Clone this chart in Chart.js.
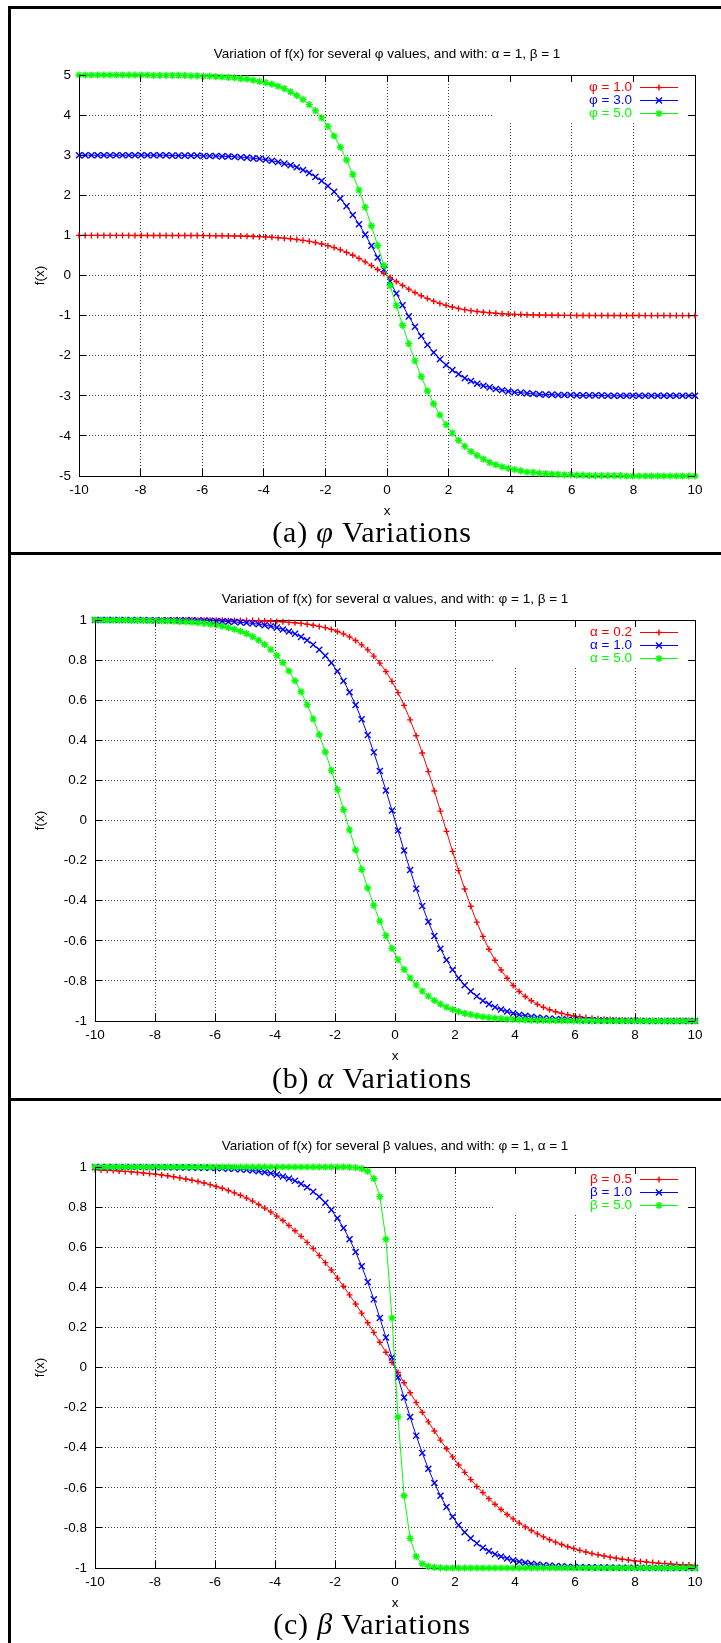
<!DOCTYPE html>
<html>
<head>
<meta charset="utf-8">
<title>Variations of f(x)</title>
<script src="https://cdn.jsdelivr.net/npm/chart.js@4.4.1/dist/chart.umd.min.js"></script>
<style>
  html, body { margin: 0; padding: 0; background: #fff; }
  #page { position: relative; width: 721px; height: 1643px; overflow: hidden; background: #fff; }
  canvas { position: absolute; left: 0; }
  .rule { position: absolute; background: #000; }
  .caption {
    position: absolute; left: 0; width: 744px; text-align: center;
    font-family: "Liberation Serif", "DejaVu Serif", serif;
    font-size: 30px; line-height: 30px; letter-spacing: 0.8px; color: #000;
  }
</style>
</head>
<body>
<div id="page">
  <canvas id="chartA" width="721" height="546" style="top:7px"></canvas>
  <canvas id="chartB" width="721" height="546" style="top:552px"></canvas>
  <canvas id="chartC" width="721" height="546" style="top:1099px"></canvas>

  <div class="rule" style="left:8px; top:6px; width:713px; height:3px"></div>
  <div class="rule" style="left:8px; top:6px; width:3px; height:1637px"></div>
  <div class="rule" style="left:8px; top:552px; width:713px; height:3px"></div>
  <div class="rule" style="left:8px; top:1098px; width:713px; height:3px"></div>

  <div class="caption" style="top:517px">(a) <i>φ</i> Variations</div>
  <div class="caption" style="top:1063px">(b) <i>α</i> Variations</div>
  <div class="caption" style="top:1609px">(c) <i>β</i> Variations</div>
</div>

<script>
// x samples (100 points between -10 and 10, like gnuplot)
const xs = [
  -10, -9.798, -9.596, -9.394, -9.192, -8.990, -8.788, -8.586, -8.384, -8.182,
  -7.980, -7.778, -7.576, -7.374, -7.172, -6.970, -6.768, -6.566, -6.364, -6.162,
  -5.960, -5.758, -5.556, -5.354, -5.152, -4.949, -4.747, -4.545, -4.343, -4.141,
  -3.939, -3.737, -3.535, -3.333, -3.131, -2.929, -2.727, -2.525, -2.323, -2.121,
  -1.919, -1.717, -1.515, -1.313, -1.111, -0.909, -0.707, -0.505, -0.303, -0.101,
  0.101, 0.303, 0.505, 0.707, 0.909, 1.111, 1.313, 1.515, 1.717, 1.919,
  2.121, 2.323, 2.525, 2.727, 2.929, 3.131, 3.333, 3.535, 3.737, 3.939,
  4.141, 4.343, 4.545, 4.747, 4.949, 5.152, 5.354, 5.556, 5.758, 5.960,
  6.162, 6.364, 6.566, 6.768, 6.970, 7.172, 7.374, 7.576, 7.778, 7.980,
  8.182, 8.384, 8.586, 8.788, 8.990, 9.192, 9.394, 9.596, 9.798, 10
];

const xTicks = [-10, -8, -6, -4, -2, 0, 2, 4, 6, 8, 10];
const phiTicks = [-5, -4, -3, -2, -1, 0, 1, 2, 3, 4, 5];
const unitTicks = [-1, -0.8, -0.6, -0.4, -0.2, 0, 0.2, 0.4, 0.6, 0.8, 1];

// phi = 1, alpha = 1, beta = 1 (same curve in the three panels)
const unitCurve = [
  1, 1, 1, 1, 1, 1, 1, 1, 1, 0.999,
  0.999, 0.999, 0.999, 0.999, 0.998, 0.998, 0.998, 0.997, 0.997, 0.996,
  0.995, 0.994, 0.992, 0.991, 0.988, 0.986, 0.983, 0.979, 0.974, 0.969,
  0.962, 0.953, 0.943, 0.931, 0.916, 0.899, 0.877, 0.852, 0.822, 0.786,
  0.744, 0.696, 0.640, 0.576, 0.505, 0.426, 0.340, 0.247, 0.150, 0.050,
  -0.050, -0.150, -0.247, -0.340, -0.426, -0.505, -0.576, -0.640, -0.696, -0.744,
  -0.786, -0.822, -0.852, -0.877, -0.899, -0.916, -0.931, -0.943, -0.953, -0.962,
  -0.969, -0.974, -0.979, -0.983, -0.986, -0.988, -0.991, -0.992, -0.994, -0.995,
  -0.996, -0.997, -0.997, -0.998, -0.998, -0.998, -0.999, -0.999, -0.999, -0.999,
  -0.999, -1, -1, -1, -1, -1, -1, -1, -1, -1
];

// panel (a)
const phi3 = [
  3, 3, 3, 3, 3, 3, 3, 3, 3, 3,
  3, 3, 3, 3, 3, 2.99, 2.99, 2.99, 2.99, 2.99,
  2.98, 2.98, 2.98, 2.97, 2.97, 2.96, 2.95, 2.94, 2.92, 2.91,
  2.89, 2.86, 2.83, 2.79, 2.75, 2.70, 2.63, 2.56, 2.46, 2.36,
  2.23, 2.09, 1.92, 1.73, 1.51, 1.28, 1.02, 0.74, 0.45, 0.15,
  -0.15, -0.45, -0.74, -1.02, -1.28, -1.51, -1.73, -1.92, -2.09, -2.23,
  -2.36, -2.46, -2.56, -2.63, -2.70, -2.75, -2.79, -2.83, -2.86, -2.89,
  -2.91, -2.92, -2.94, -2.95, -2.96, -2.97, -2.97, -2.98, -2.98, -2.98,
  -2.99, -2.99, -2.99, -2.99, -2.99, -3, -3, -3, -3, -3,
  -3, -3, -3, -3, -3, -3, -3, -3, -3, -3
];
const phi5 = [
  5, 5, 5, 5, 5, 5, 5, 5, 5, 5,
  5, 5, 4.99, 4.99, 4.99, 4.99, 4.99, 4.99, 4.98, 4.98,
  4.97, 4.97, 4.96, 4.95, 4.94, 4.93, 4.91, 4.90, 4.87, 4.84,
  4.81, 4.77, 4.72, 4.66, 4.58, 4.49, 4.39, 4.26, 4.11, 3.93,
  3.72, 3.48, 3.20, 2.88, 2.52, 2.13, 1.70, 1.24, 0.75, 0.25,
  -0.25, -0.75, -1.24, -1.70, -2.13, -2.52, -2.88, -3.20, -3.48, -3.72,
  -3.93, -4.11, -4.26, -4.39, -4.49, -4.58, -4.66, -4.72, -4.77, -4.81,
  -4.84, -4.87, -4.90, -4.91, -4.93, -4.94, -4.95, -4.96, -4.97, -4.97,
  -4.98, -4.98, -4.99, -4.99, -4.99, -4.99, -4.99, -4.99, -5, -5,
  -5, -5, -5, -5, -5, -5, -5, -5, -5, -5
];

// panel (b)
const alpha02 = [
  1, 1, 1, 1, 1, 1, 1, 1, 1, 1,
  1, 1, 1, 1, 1, 1, 1, 0.999, 0.999, 0.999,
  0.999, 0.999, 0.998, 0.998, 0.998, 0.997, 0.997, 0.996, 0.995, 0.994,
  0.992, 0.991, 0.988, 0.986, 0.983, 0.979, 0.974, 0.968, 0.962, 0.953,
  0.943, 0.931, 0.916, 0.898, 0.876, 0.851, 0.820, 0.785, 0.743, 0.694,
  0.638, 0.574, 0.502, 0.423, 0.337, 0.244, 0.147, 0.047, -0.054, -0.154,
  -0.250, -0.342, -0.428, -0.507, -0.578, -0.642, -0.697, -0.746, -0.787, -0.823,
  -0.853, -0.878, -0.899, -0.917, -0.932, -0.944, -0.954, -0.962, -0.969, -0.975,
  -0.979, -0.983, -0.986, -0.989, -0.991, -0.992, -0.994, -0.995, -0.996, -0.997,
  -0.997, -0.998, -0.998, -0.998, -0.999, -0.999, -0.999, -0.999, -0.999, -1
];
const alpha5 = [
  1, 0.999, 0.999, 0.999, 0.999, 0.999, 0.998, 0.998, 0.998, 0.997,
  0.997, 0.996, 0.995, 0.994, 0.992, 0.991, 0.989, 0.986, 0.983, 0.979,
  0.975, 0.969, 0.962, 0.954, 0.944, 0.932, 0.917, 0.899, 0.878, 0.853,
  0.823, 0.787, 0.746, 0.697, 0.642, 0.578, 0.507, 0.428, 0.342, 0.250,
  0.154, 0.054, -0.047, -0.147, -0.244, -0.337, -0.423, -0.502, -0.574, -0.638,
  -0.694, -0.743, -0.785, -0.820, -0.851, -0.876, -0.898, -0.916, -0.931, -0.943,
  -0.953, -0.962, -0.968, -0.974, -0.979, -0.983, -0.986, -0.988, -0.991, -0.992,
  -0.994, -0.995, -0.996, -0.997, -0.997, -0.998, -0.998, -0.998, -0.999, -0.999,
  -0.999, -0.999, -0.999, -1, -1, -1, -1, -1, -1, -1,
  -1, -1, -1, -1, -1, -1, -1, -1, -1, -1
];

// panel (c)
const beta05 = [
  0.987, 0.985, 0.984, 0.982, 0.980, 0.978, 0.976, 0.973, 0.970, 0.967,
  0.964, 0.960, 0.956, 0.951, 0.946, 0.940, 0.934, 0.928, 0.920, 0.912,
  0.903, 0.894, 0.883, 0.871, 0.859, 0.845, 0.830, 0.813, 0.795, 0.776,
  0.755, 0.733, 0.708, 0.682, 0.654, 0.624, 0.593, 0.559, 0.523, 0.486,
  0.446, 0.405, 0.362, 0.317, 0.271, 0.223, 0.175, 0.126, 0.076, 0.025,
  -0.025, -0.076, -0.126, -0.175, -0.223, -0.271, -0.317, -0.362, -0.405, -0.446,
  -0.486, -0.523, -0.559, -0.593, -0.624, -0.654, -0.682, -0.708, -0.733, -0.755,
  -0.776, -0.795, -0.813, -0.830, -0.845, -0.859, -0.871, -0.883, -0.894, -0.903,
  -0.912, -0.920, -0.928, -0.934, -0.940, -0.946, -0.951, -0.956, -0.960, -0.964,
  -0.967, -0.970, -0.973, -0.976, -0.978, -0.980, -0.982, -0.984, -0.985, -0.987
];
const beta5 = [
  1, 1, 1, 1, 1, 1, 1, 1, 1, 1,
  1, 1, 1, 1, 1, 1, 1, 1, 1, 1,
  1, 1, 1, 1, 1, 1, 1, 1, 1, 1,
  1, 1, 1, 1, 1, 1, 1, 1, 1, 1,
  1, 1, 0.999, 0.997, 0.992, 0.979, 0.943, 0.852, 0.640, 0.247,
  -0.247, -0.640, -0.852, -0.943, -0.979, -0.992, -0.997, -0.999, -1, -1,
  -1, -1, -1, -1, -1, -1, -1, -1, -1, -1,
  -1, -1, -1, -1, -1, -1, -1, -1, -1, -1,
  -1, -1, -1, -1, -1, -1, -1, -1, -1, -1,
  -1, -1, -1, -1, -1, -1, -1, -1, -1, -1
];

const phiLabels = ['φ = 1.0', 'φ = 3.0', 'φ = 5.0'];
const alphaLabels = ['α = 0.2', 'α = 1.0', 'α = 5.0'];
const betaLabels = ['β = 0.5', 'β = 1.0', 'β = 5.0'];

// gnuplot look
const colors = ['#ff0000', '#0000ff', '#00ff00'];
const marks = ['cross', 'crossRot', 'star'];
const markSize = [3, 4.3, 3.6];
const FONT = { family: '"Liberation Sans", Arial, sans-serif', size: 13.5 };
const KEY_W = 202, KEY_H = 45;

function alignPx(p) {
  return Math.round(p - 0.5) + 0.5;
}

function drawMark(ctx, style, x, y, r) {
  ctx.beginPath();
  if (style === 'cross' || style === 'star') {
    ctx.moveTo(x - r, y); ctx.lineTo(x + r, y);
    ctx.moveTo(x, y - r); ctx.lineTo(x, y + r);
  }
  if (style === 'crossRot' || style === 'star') {
    const d = r * Math.SQRT1_2;
    ctx.moveTo(x - d, y - d); ctx.lineTo(x + d, y + d);
    ctx.moveTo(x - d, y + d); ctx.lineTo(x + d, y - d);
  }
  ctx.stroke();
}

// inward ticks, blank key box and key (text on the left, sample on the right)
const gnuplotFrame = {
  id: 'gnuplotFrame',
  beforeDatasetsDraw(chart) {
    const { ctx, chartArea: a } = chart;
    ctx.save();
    ctx.fillStyle = '#fff';
    ctx.fillRect(a.right - KEY_W, a.top + 1, KEY_W, KEY_H);
    ctx.restore();
  },
  afterDatasetsDraw(chart) {
    const { ctx, chartArea: a, scales } = chart;
    ctx.save();
    ctx.strokeStyle = '#000';
    ctx.lineWidth = 1;
    ctx.beginPath();
    scales.x.ticks.forEach(t => {
      const px = alignPx(scales.x.getPixelForValue(t.value));
      ctx.moveTo(px, a.top); ctx.lineTo(px, a.top + 7);
      ctx.moveTo(px, a.bottom); ctx.lineTo(px, a.bottom - 7);
    });
    scales.y.ticks.forEach(t => {
      const py = alignPx(scales.y.getPixelForValue(t.value));
      ctx.moveTo(a.left, py); ctx.lineTo(a.left + 7, py);
      ctx.moveTo(a.right, py); ctx.lineTo(a.right - 7, py);
    });
    ctx.stroke();

    ctx.font = FONT.size + 'px ' + FONT.family;
    ctx.textAlign = 'right';
    ctx.textBaseline = 'middle';
    chart.data.datasets.forEach((ds, i) => {
      const y = a.top + 12.5 + 13 * i;
      const ly = alignPx(y);
      ctx.fillStyle = ds.borderColor;
      ctx.strokeStyle = ds.borderColor;
      ctx.fillText(ds.label, a.right - 63, y);
      ctx.lineWidth = 1;
      ctx.beginPath();
      ctx.moveTo(a.right - 55, ly);
      ctx.lineTo(a.right - 17, ly);
      ctx.stroke();
      ctx.lineWidth = ds.pointBorderWidth;
      drawMark(ctx, ds.pointStyle, a.right - 36, ly, ds.pointRadius);
    });
    ctx.restore();
  }
};

function makePanel(canvasId, title, labels, series, yTicks, plotLeft) {
  const yMin = yTicks[0];
  const yMax = yTicks[yTicks.length - 1];

  const datasets = series.map((s, i) => ({
    label: labels[i],
    data: xs.map((x, j) => ({ x: x, y: s[j] })),
    xAxisID: 'x',
    yAxisID: 'y',
    borderColor: colors[i],
    backgroundColor: colors[i],
    borderWidth: 1,
    pointStyle: marks[i],
    pointRadius: markSize[i],
    pointBorderWidth: 1.4,
    pointBorderColor: colors[i],
    order: 3 - i,
    clip: false
  }));

  const gridColor = 'rgba(0,0,0,0.75)';

  return new Chart(document.getElementById(canvasId), {
    type: 'line',
    data: { datasets: datasets },
    options: {
      responsive: false,
      animation: false,
      events: [],
      layout: { padding: { top: 0, left: 0, right: 0, bottom: 34 }, autoPadding: false },
      plugins: {
        legend: { display: false },
        tooltip: { enabled: false },
        title: { display: false }
      },
      scales: {
        x: {
          type: 'linear', position: 'bottom', min: -10, max: 10,
          afterBuildTicks: s => { s.ticks = xTicks.map(v => ({ value: v })); },
          afterFit: s => { s.height = 43; },
          ticks: { font: FONT, color: '#000', padding: 6, maxRotation: 0, autoSkip: false,
                   callback: v => String(v) },
          grid: { color: gridColor, lineWidth: 1, drawTicks: false },
          border: { display: true, color: '#000', width: 1, dash: [1, 2] },
          title: { display: true, text: 'x', font: FONT, color: '#000', padding: 0 }
        },
        x2: {
          type: 'linear', position: 'top', min: -10, max: 10,
          afterFit: s => { s.height = 68; },
          ticks: { display: false },
          grid: { display: false, drawTicks: false },
          border: { display: true, color: '#000', width: 1 },
          title: { display: true, text: title, font: FONT, color: '#000',
                   padding: { top: 39, bottom: 0 } }
        },
        y: {
          type: 'linear', position: 'left', min: yMin, max: yMax,
          afterBuildTicks: s => { s.ticks = yTicks.map(v => ({ value: v })); },
          afterFit: s => { s.width = plotLeft; },
          ticks: { font: FONT, color: '#000', padding: 8, autoSkip: false,
                   callback: v => String(v) },
          grid: { color: gridColor, lineWidth: 1, drawTicks: false },
          border: { display: true, color: '#000', width: 1, dash: [1, 2] },
          title: { display: true, text: 'f(x)', font: FONT, color: '#000',
                   padding: { top: 32, bottom: 0 } }
        },
        y2: {
          type: 'linear', position: 'right', min: yMin, max: yMax,
          afterFit: s => { s.width = 26; },
          ticks: { display: false },
          grid: { display: false, drawTicks: false },
          border: { display: true, color: '#000', width: 1 }
        }
      }
    },
    plugins: [gnuplotFrame]
  });
}

makePanel('chartA', 'Variation of f(x) for several φ values, and with: α = 1, β = 1',
  phiLabels, [unitCurve, phi3, phi5], phiTicks, 79);
makePanel('chartB', 'Variation of f(x) for several α values, and with: φ = 1, β = 1',
  alphaLabels, [alpha02, unitCurve, alpha5], unitTicks, 95);
makePanel('chartC', 'Variation of f(x) for several β values, and with: φ = 1, α = 1',
  betaLabels, [beta05, unitCurve, beta5], unitTicks, 95);
</script>
</body>
</html>
